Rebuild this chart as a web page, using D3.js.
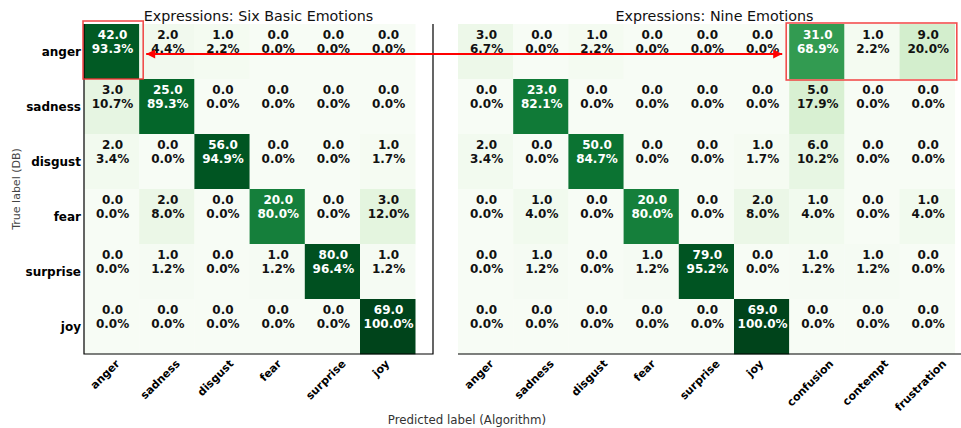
<!DOCTYPE html>
<html>
<head>
<meta charset="utf-8">
<script src="https://cdn.jsdelivr.net/npm/d3@7"></script>
<style>
  body { margin: 0; background: #fff; }
  svg { font-family: "DejaVu Sans", sans-serif; }
</style>
</head>
<body>
<svg width="961" height="428"></svg>
<script>
const trueLabels = ["anger", "sadness", "disgust", "fear", "surprise", "joy"];
const sixLabels = ["anger", "sadness", "disgust", "fear", "surprise", "joy"];
const nineLabels = ["anger", "sadness", "disgust", "fear", "surprise", "joy", "confusion", "contempt", "frustration"];

const sixCounts = [
    [42, 2, 1, 0, 0, 0],
    [3, 25, 0, 0, 0, 0],
    [2, 0, 56, 0, 0, 1],
    [0, 2, 0, 20, 0, 3],
    [0, 1, 0, 1, 80, 1],
    [0, 0, 0, 0, 0, 69]
];
const sixPct = [
    [93.3, 4.4, 2.2, 0, 0, 0],
    [10.7, 89.3, 0, 0, 0, 0],
    [3.4, 0, 94.9, 0, 0, 1.7],
    [0, 8.0, 0, 80.0, 0, 12.0],
    [0, 1.2, 0, 1.2, 96.4, 1.2],
    [0, 0, 0, 0, 0, 100.0]
];
const nineCounts = [
    [3, 0, 1, 0, 0, 0, 31, 1, 9],
    [0, 23, 0, 0, 0, 0, 5, 0, 0],
    [2, 0, 50, 0, 0, 1, 6, 0, 0],
    [0, 1, 0, 20, 0, 2, 1, 0, 1],
    [0, 1, 0, 1, 79, 0, 1, 1, 0],
    [0, 0, 0, 0, 0, 69, 0, 0, 0]
];
const ninePct = [
    [6.7, 0, 2.2, 0, 0, 0, 68.9, 2.2, 20.0],
    [0, 82.1, 0, 0, 0, 0, 17.9, 0, 0],
    [3.4, 0, 84.7, 0, 0, 1.7, 10.2, 0, 0],
    [0, 4.0, 0, 80.0, 0, 8.0, 4.0, 0, 4.0],
    [0, 1.2, 0, 1.2, 95.2, 0, 1.2, 1.2, 0],
    [0, 0, 0, 0, 0, 100.0, 0, 0, 0]
];

const svg = d3.select("svg");
const cell = 55.2;
const yTop = 24, yBot = 354;

const y = d3.scaleBand().domain(trueLabels).range([yTop, yBot]);

function drawMatrix(left, axRight, cols, counts, pct, title, frame) {
    const x = d3.scaleBand().domain(cols).range([left, left + cols.length * cell]);
    const g = svg.append("g");

    const cells = [];
    counts.forEach((row, i) => row.forEach((c, j) => cells.push({r: trueLabels[i], c: cols[j], n: c, p: pct[i][j]})));

    g.selectAll("rect.cell").data(cells).join("rect")
        .attr("class", "cell")
        .attr("x", d => x(d.c))
        .attr("y", d => y(d.r))
        .attr("width", x.bandwidth() + 0.3)
        .attr("height", y.bandwidth() + 0.3)
        .attr("fill", d => d3.interpolateGreens(d.p / 100));

    const t = g.selectAll("text.val").data(cells).join("text")
        .attr("class", "val")
        .attr("text-anchor", "middle")
        .attr("font-size", 12)
        .attr("font-weight", "bold")
        .attr("fill", d => d.p > 50 ? "#fff" : "#111");
    t.append("tspan")
        .attr("x", d => x(d.c) + x.bandwidth() / 2 + 1)
        .attr("y", d => y(d.r) + 15)
        .text(d => d.n.toFixed(1));
    t.append("tspan")
        .attr("x", d => x(d.c) + x.bandwidth() / 2 + 1)
        .attr("y", d => y(d.r) + 29)
        .text(d => d.p.toFixed(1) + "%");

    // frame
    if (frame) {
        g.append("path")
            .attr("d", `M${left},${yTop}V${yBot}H${axRight}V${yTop}`)
            .attr("fill", "none").attr("stroke", "#000").attr("stroke-width", 1.2);
    } else {
        g.append("line")
            .attr("x1", left).attr("x2", axRight)
            .attr("y1", yBot).attr("y2", yBot)
            .attr("stroke", "#000").attr("stroke-width", 1.2);
    }

    // x tick labels, rotated 45deg and centred like matplotlib's rotated ticks
    g.selectAll("text.xt").data(cols).join("text")
        .attr("class", "xt")
        .attr("text-anchor", "middle")
        .attr("dy", "0.35em")
        .attr("font-size", 11)
        .attr("font-weight", "bold")
        .attr("fill", "#000")
        .text(d => d)
        .attr("transform", function(d) {
            const L = this.getComputedTextLength();
            return `translate(${x(d) + x.bandwidth() / 2 - 6.7},${361.6 + 0.354 * L}) rotate(-45)`;
        });

    g.append("text")
        .attr("x", (left + axRight) / 2)
        .attr("y", 21)
        .attr("text-anchor", "middle")
        .attr("font-size", 14.3)
        .attr("fill", "#111")
        .text(title);

    return x;
}

const xs = drawMatrix(84, 433, sixLabels, sixCounts, sixPct, "Expressions: Six Basic Emotions", true);
const xn = drawMatrix(458, 971, nineLabels, nineCounts, ninePct, "Expressions: Nine Emotions", false);

// row labels
svg.append("g").selectAll("text").data(trueLabels).join("text")
    .attr("x", 81)
    .attr("y", d => y(d) + y.bandwidth() / 2)
    .attr("dy", "0.35em")
    .attr("text-anchor", "end")
    .attr("font-size", 12)
    .attr("font-weight", "bold")
    .text(d => d);

svg.append("text")
    .attr("transform", `translate(20,${(yTop + yBot) / 2}) rotate(-90)`)
    .attr("text-anchor", "middle")
    .attr("font-size", 11)
    .attr("fill", "#444")
    .text("True label (DB)");

svg.append("text")
    .attr("x", 467)
    .attr("y", 424)
    .attr("text-anchor", "middle")
    .attr("font-size", 11.8)
    .attr("fill", "#333")
    .text("Predicted label (Algorithm)");

// red annotations
const red = "#f03030";
svg.append("defs").append("marker")
    .attr("id", "head")
    .attr("viewBox", "0 0 10 10")
    .attr("refX", 10).attr("refY", 5)
    .attr("markerWidth", 5).attr("markerHeight", 4.5)
    .attr("markerUnits", "strokeWidth")
    .attr("orient", "auto-start-reverse")
    .append("path")
    .attr("d", "M0,0L10,5L0,10z")
    .attr("fill", "#ff0000");

const ann = svg.append("g");
ann.append("rect")
    .attr("x", xs("anger") - 1)
    .attr("y", y("anger") - 3)
    .attr("width", xs.bandwidth() + 5)
    .attr("height", y.bandwidth() + 3)
    .attr("fill", "none").attr("stroke", red).attr("stroke-width", 1.6).attr("opacity", 0.85);
ann.append("rect")
    .attr("x", xn("confusion") - 3)
    .attr("y", y("anger") - 1)
    .attr("width", 3 * xn.bandwidth() + 5)
    .attr("height", y.bandwidth() + 2)
    .attr("fill", "none").attr("stroke", red).attr("stroke-width", 1.6).attr("opacity", 0.85);
ann.append("line")
    .attr("x1", xs("anger") + xs.bandwidth() + 7)
    .attr("x2", xn("confusion") - 7)
    .attr("y1", y("anger") + 30)
    .attr("y2", y("anger") + 30)
    .attr("stroke", "#ff0000")
    .attr("stroke-width", 2)
    .attr("marker-start", "url(#head)")
    .attr("marker-end", "url(#head)");
</script>
</body>
</html>
